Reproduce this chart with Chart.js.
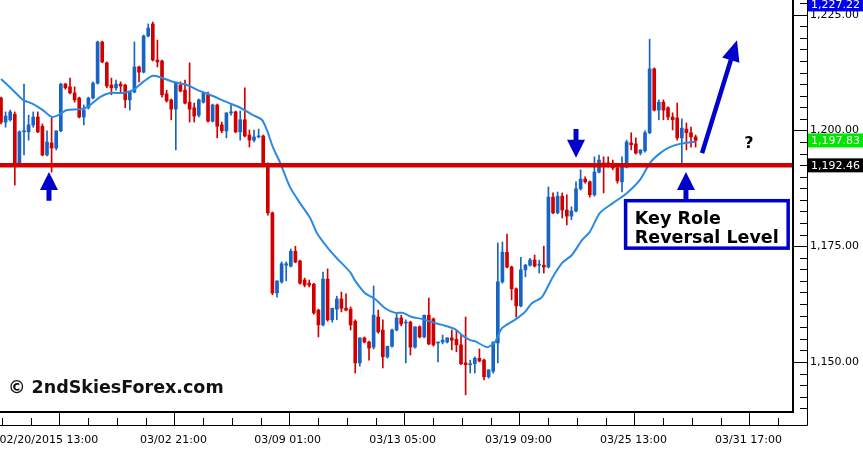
<!DOCTYPE html>
<html><head><meta charset="utf-8">
<script src="https://cdn.jsdelivr.net/npm/chart.js@4/dist/chart.umd.min.js"></script>
<style>html,body{margin:0;padding:0;background:#fff;}#wrap{width:863px;height:450px;}</style>
</head><body><div id="wrap"><canvas id="c" width="863" height="450"></canvas></div>
<script>
// ---- candle data (H4 bars) ----
const opens  = [1207.0,1201.8,1202.3,1203.5,1193.0,1199.7,1199.7,1201.2,1202.9,1200.9,1194.7,1197.3,1196.2,1199.9,1210.0,1209.4,1208.1,1207.0,1202.9,1204.9,1207.0,1210.2,1219.1,1214.6,1209.8,1209.2,1210.0,1209.8,1206.6,1208.3,1213.7,1212.6,1220.4,1223.0,1215.2,1215.0,1207.9,1206.6,1204.6,1209.8,1208.7,1206.1,1204.9,1203.3,1206.1,1207.7,1202.0,1205.5,1201.2,1199.9,1203.8,1204.0,1199.7,1202.3,1199.0,1197.9,1198.6,1198.8,1192.8,1182.2,1164.9,1167.3,1170.9,1170.7,1173.9,1171.8,1167.7,1167.0,1166.8,1161.2,1158.0,1167.9,1159.1,1161.4,1163.6,1161.6,1161.4,1158.8,1149.8,1155.2,1154.3,1153.2,1159.7,1156.9,1151.1,1153.4,1156.9,1159.5,1158.4,1158.6,1153.2,1157.6,1155.4,1160.1,1159.3,1154.1,1154.3,1154.3,1155.2,1154.9,1153.7,1149.8,1149.4,1149.6,1150.8,1150.4,1146.8,1148.0,1154.1,1167.3,1173.7,1170.5,1165.8,1162.1,1169.9,1170.9,1172.0,1170.9,1170.9,1170.5,1185.6,1182.2,1185.8,1182.8,1181.5,1182.6,1187.4,1189.5,1188.9,1186.1,1191.0,1193.0,1193.0,1192.8,1191.9,1188.9,1192.1,1197.3,1197.1,1195.1,1195.6,1199.5,1213.3,1204.4,1206.1,1204.9,1202.9,1202.7,1198.4,1200.3,1199.5,1198.6];
const highs  = [1207.2,1204.0,1204.4,1204.0,1199.9,1210.0,1203.3,1204.0,1204.0,1201.4,1199.9,1202.7,1199.9,1210.2,1210.2,1211.3,1209.4,1207.2,1205.5,1207.2,1210.5,1219.3,1219.3,1214.8,1211.3,1210.9,1210.5,1210.0,1208.3,1219.1,1213.9,1220.6,1223.0,1223.4,1219.5,1215.2,1208.7,1206.8,1210.2,1210.5,1210.9,1214.6,1205.9,1206.8,1208.3,1208.3,1205.7,1205.7,1201.8,1203.8,1205.5,1204.2,1204.2,1209.2,1200.1,1200.1,1200.3,1199.0,1193.0,1182.4,1167.5,1171.6,1171.6,1174.4,1175.0,1172.0,1168.1,1167.7,1167.0,1161.4,1169.4,1170.1,1161.6,1164.2,1165.1,1164.7,1161.9,1159.1,1155.2,1155.4,1154.5,1166.4,1161.2,1159.1,1153.4,1157.1,1160.6,1160.1,1159.1,1158.8,1157.6,1157.8,1160.1,1163.8,1159.5,1154.3,1155.8,1155.2,1156.9,1156.9,1155.8,1159.7,1150.4,1151.1,1152.8,1150.6,1148.3,1154.3,1175.7,1175.9,1177.6,1170.7,1166.0,1172.6,1171.1,1172.4,1173.1,1172.0,1175.0,1187.8,1186.5,1186.7,1186.5,1186.1,1183.5,1188.9,1191.5,1190.0,1189.1,1194.3,1194.7,1194.3,1194.3,1193.6,1192.3,1194.3,1197.9,1199.5,1198.4,1195.8,1199.9,1219.7,1213.5,1206.6,1206.6,1205.1,1203.8,1205.9,1202.5,1201.6,1200.7,1199.0];
const lows   = [1201.4,1200.7,1202.0,1188.2,1192.8,1194.7,1197.9,1200.7,1199.5,1194.5,1194.5,1191.0,1195.8,1199.7,1208.9,1207.9,1206.1,1202.7,1201.2,1204.6,1206.8,1210.0,1214.6,1209.2,1207.7,1208.7,1208.3,1204.9,1204.4,1208.1,1210.5,1212.4,1220.2,1215.0,1213.7,1207.2,1206.1,1202.3,1195.8,1208.3,1205.7,1201.8,1201.8,1202.9,1205.9,1201.8,1201.8,1198.4,1199.5,1198.4,1203.3,1199.5,1197.9,1198.6,1196.4,1197.5,1198.4,1192.8,1181.7,1164.5,1164.0,1167.0,1167.5,1170.5,1171.4,1166.8,1166.2,1166.2,1160.3,1155.4,1157.8,1158.8,1158.6,1159.1,1160.8,1161.0,1156.9,1147.6,1149.1,1154.1,1150.4,1152.8,1156.2,1148.7,1150.8,1153.2,1156.7,1157.8,1149.8,1151.5,1153.0,1155.2,1155.2,1153.7,1153.4,1150.0,1153.9,1154.1,1152.6,1152.2,1149.4,1142.9,1147.6,1147.6,1150.0,1146.1,1146.5,1147.6,1149.8,1167.0,1170.3,1163.4,1159.7,1161.9,1168.4,1170.7,1170.5,1169.2,1169.2,1170.3,1182.0,1182.0,1181.1,1179.6,1180.7,1182.4,1187.1,1188.6,1185.6,1185.8,1190.8,1186.5,1192.1,1191.5,1188.6,1186.7,1191.9,1195.8,1194.9,1194.7,1195.3,1199.3,1204.2,1202.3,1202.3,1202.3,1200.1,1197.9,1192.5,1195.8,1196.4,1196.4];
const closes = [1201.8,1203.1,1204.0,1193.0,1199.7,1199.9,1201.2,1202.9,1199.7,1194.7,1197.5,1196.2,1199.9,1210.0,1209.2,1208.1,1206.6,1202.9,1204.4,1207.0,1210.2,1219.1,1214.8,1209.6,1209.2,1210.0,1209.6,1206.6,1208.3,1213.7,1212.6,1220.4,1222.1,1215.2,1214.8,1207.7,1206.4,1204.6,1210.2,1208.5,1205.9,1204.6,1203.1,1206.6,1208.1,1202.0,1205.5,1200.9,1199.9,1203.8,1204.0,1199.7,1202.3,1198.8,1197.9,1198.6,1198.8,1192.8,1182.2,1164.9,1167.5,1171.2,1171.2,1173.9,1171.6,1167.0,1166.6,1166.6,1160.6,1158.0,1167.9,1159.1,1161.6,1163.6,1161.6,1161.2,1158.0,1149.8,1155.2,1154.3,1153.0,1160.1,1156.5,1151.1,1153.4,1156.9,1159.5,1158.2,1158.6,1153.2,1157.6,1155.4,1160.1,1153.9,1153.7,1154.3,1154.7,1155.2,1154.7,1153.7,1149.6,1149.4,1149.6,1150.8,1150.2,1146.8,1148.3,1154.3,1167.3,1173.7,1170.5,1165.8,1162.1,1169.9,1170.9,1172.0,1170.7,1171.0,1170.5,1185.6,1182.2,1185.8,1182.8,1181.5,1182.6,1187.4,1189.5,1188.9,1186.1,1191.0,1193.6,1192.5,1192.5,1191.9,1189.1,1192.1,1197.5,1196.9,1195.1,1195.8,1199.5,1213.3,1204.4,1206.1,1204.4,1202.9,1202.3,1198.4,1200.5,1199.5,1198.6,1197.83];

// ---- moving average readings (bar position, price) ----
const maIdx = [0,2.6,4.8,7.0,9.1,11.1,12.4,14.3,17.2,18.9,21.5,23.7,26.5,28.7,30.9,33.0,34.6,37.4,40.4,43.3,45.4,49.1,52.0,54.8,56.7,57.8,59.1,60.7,62.8,65.0,67.2,68.7,70.9,73.0,75.9,77.0,79.1,81.3,83.5,85.7,87.4,89.3,91.5,93.7,95.9,98.7,100.2,102.0,103.0,105.7,107.4,108.9,111.7,113.9,115.4,117.6,119.8,122.0,124.1,126.3,128.0,130.2,133.0,136.1,138.9,141.1,143.3,145.4,147.6,150.4,151.0];
const maVal = [1211.1,1208.7,1206.6,1205.7,1204.4,1202.9,1203.3,1204.4,1204.6,1205.1,1207.2,1208.1,1208.1,1208.7,1210.5,1211.8,1211.5,1210.5,1209.8,1208.5,1207.7,1206.1,1204.9,1203.3,1202.3,1200.1,1196.4,1193.0,1187.8,1184.3,1181.1,1177.8,1174.8,1172.4,1169.4,1167.5,1164.9,1163.6,1161.6,1160.6,1160.6,1159.7,1159.3,1158.6,1158.0,1157.1,1155.8,1154.7,1154.5,1153.2,1154.3,1157.3,1159.1,1160.8,1162.7,1164.0,1168.1,1171.4,1173.1,1176.3,1178.1,1182.2,1184.3,1186.5,1189.3,1193.0,1195.1,1196.4,1197.1,1197.5,1197.6];

// ---- axis ticks ----
const xTickPos    = [12.67,37.67,62.67,87.67,112.67,137.67,162.67];
const xLabelPos   = [10.4,37.5,62.3,87.3,112.5,137.5,162.5];
const xTickLabels = ["02/20/2015 13:00","03/02 21:00","03/09 01:00","03/13 05:00","03/19 09:00","03/25 13:00","03/31 17:00"];
const xMinorStep  = 6.25;
const yMajorTicks = [1150,1175,1200,1225];
const yMinorStep  = 2.5;

// ---- price markers & annotations ----
const keyLevel   = 1192.46;
const lastClose  = 1197.83;
const highMarker = 1227.22;

const BULL = '#1764c4', BEAR = '#d10000', MA_COL = '#2a8be2', LINE_RED = '#d40000', ARROW = '#0000cc';

const xMin = -0.22, xMax = 172.17, yMin = 1139.19, yMax = 1228.17;

function fmt(v){ return v.toLocaleString('en-US',{minimumFractionDigits:2,maximumFractionDigits:2}); }

function drawArrow(ctx,x1,y1,x2,y2,sw,hw,hl){
  const dx=x2-x1, dy=y2-y1, len=Math.hypot(dx,dy), ux=dx/len, uy=dy/len, px=-uy, py=ux;
  const bx=x2-ux*hl, by=y2-uy*hl;
  ctx.beginPath();
  ctx.moveTo(x1+px*sw/2, y1+py*sw/2);
  ctx.lineTo(bx+px*sw/2, by+py*sw/2);
  ctx.lineTo(bx+px*hw/2, by+py*hw/2);
  ctx.lineTo(x2, y2);
  ctx.lineTo(bx-px*hw/2, by-py*hw/2);
  ctx.lineTo(bx-px*sw/2, by-py*sw/2);
  ctx.lineTo(x1-px*sw/2, y1-py*sw/2);
  ctx.closePath(); ctx.fill();
}

const arrows = [
  {from:[10.43,1184.8], to:[10.43,1191.0], sw:5, hw:18, hl:18},
  {from:[125.0,1200.3], to:[125.0,1194.1], sw:5, hw:18, hl:18},
  {from:[148.9,1184.8], to:[148.9,1191.0], sw:5, hw:18, hl:18},
  {from:[152.4,1195.1], to:[160.0,1219.5], sw:4.5, hw:18, hl:21}
];

const decor = {
  id:'decor',
  beforeDraw(chart){
    const c=chart.ctx; c.save(); c.fillStyle='#fff'; c.fillRect(0,0,chart.width,chart.height); c.restore();
  },
  afterDatasetsDraw(chart){
    const {ctx, chartArea:a, scales:{x,y}} = chart;
    ctx.save();
    const ly = y.getPixelForValue(keyLevel);
    ctx.strokeStyle = LINE_RED; ctx.lineWidth = 4.5;
    ctx.beginPath(); ctx.moveTo(a.left, ly); ctx.lineTo(a.right, ly); ctx.stroke();
    ctx.fillStyle = ARROW;
    arrows.forEach(ar=>{
      drawArrow(ctx, x.getPixelForValue(ar.from[0]), y.getPixelForValue(ar.from[1]),
                     x.getPixelForValue(ar.to[0]), y.getPixelForValue(ar.to[1]), ar.sw, ar.hw, ar.hl);
    });
    ctx.fillStyle = '#000'; ctx.font = 'bold 16px "DejaVu Sans"'; ctx.textAlign='center'; ctx.textBaseline='alphabetic';
    ctx.fillText('?', x.getPixelForValue(162.6), y.getPixelForValue(1196.2));
    const bl = x.getPixelForValue(135.4), br = x.getPixelForValue(171.5);
    const bt = y.getPixelForValue(1185.2), bb = y.getPixelForValue(1174.2);
    ctx.fillStyle='#fff'; ctx.fillRect(bl,bt,br-bl,bb-bt);
    ctx.strokeStyle = ARROW; ctx.lineWidth = 3.5;
    ctx.strokeRect(bl+1.75, bt+1.75, br-bl-3.5, bb-bt-3.5);
    ctx.fillStyle='#000'; ctx.font='bold 17.5px "DejaVu Sans"'; ctx.textAlign='left';
    ctx.fillText('Key Role', bl+11, bt+25);
    ctx.fillText('Reversal Level', bl+11, bt+44);
    ctx.font='bold 17.5px "DejaVu Sans"'; ctx.fillStyle='#111';
    ctx.fillText('\u00A9 2ndSkiesForex.com', a.left+8, a.bottom-19.5);
    ctx.restore();
  },
  afterDraw(chart){
    const {ctx, chartArea:a, scales:{x,y}} = chart;
    ctx.save();
    const R = a.right, B = a.bottom, OX = R+14, OY = B+13;
    ctx.strokeStyle='#000';
    ctx.lineWidth=2;
    ctx.beginPath(); ctx.moveTo(R, 0); ctx.lineTo(R, B); ctx.lineTo(0, B); ctx.stroke();
    ctx.lineWidth=1;
    ctx.beginPath(); ctx.moveTo(OX+0.5, 0); ctx.lineTo(OX+0.5, OY+0.5); ctx.lineTo(0, OY+0.5); ctx.stroke();
    ctx.beginPath();
    for(let v=Math.ceil(yMin/yMinorStep)*yMinorStep; v<=yMax; v+=yMinorStep){
      const py = Math.round(y.getPixelForValue(v))+0.5;
      const major = yMajorTicks.includes(Math.round(v*100)/100);
      ctx.moveTo(major?R:OX-7, py); ctx.lineTo(OX, py);
    }
    for(let v=xTickPos[0]-Math.floor((xTickPos[0]-xMin)/xMinorStep)*xMinorStep; v<=xMax; v+=xMinorStep){
      const px = Math.round(x.getPixelForValue(v))+0.5;
      const major = xTickPos.some(t=>Math.abs(t-v)<0.01);
      ctx.moveTo(px, major?B:OY-7); ctx.lineTo(px, OY);
    }
    ctx.stroke();
    const boxes = [[highMarker,'#0000ee'],[lastClose,'#00e600'],[keyLevel,'#000000']];
    ctx.font='11px "DejaVu Sans"'; ctx.textAlign='left'; ctx.textBaseline='middle';
    boxes.forEach(([v,col])=>{
      const py = y.getPixelForValue(v);
      ctx.fillStyle=col; ctx.fillRect(OX+1, py-7, chart.width-OX-1, 14);
      ctx.fillStyle='#fff'; ctx.fillText(fmt(v), OX+4, py+0.5);
    });
    ctx.restore();
  }
};

const wickData = opens.map((o,i)=>({x:i, y:[lows[i], highs[i]]}));
const bodyData = opens.map((o,i)=>({x:i, y:[opens[i], closes[i]]}));
const colorFor = ctx => closes[ctx.dataIndex] >= opens[ctx.dataIndex] ? BULL : BEAR;

function noPad(s){ s.paddingLeft = 0; s.paddingRight = 0; s.paddingTop = 0; s.paddingBottom = 0; }

new Chart(document.getElementById('c'), {
  type:'bar',
  data:{ datasets:[
    {type:'line', data: maIdx.map((v,i)=>({x:v, y:maVal[i]})), borderColor:MA_COL, borderWidth:2, pointRadius:0, tension:0.25, order:0},
    {data: bodyData, backgroundColor: colorFor, barThickness:3, minBarLength:1, grouped:false, borderWidth:0, order:1},
    {data: wickData, backgroundColor: colorFor, barThickness:1, grouped:false, borderWidth:0, order:2}
  ]},
  options:{
    responsive:false, animation:false, devicePixelRatio:1,
    layout:{padding:0, autoPadding:false},
    plugins:{legend:{display:false}, tooltip:{enabled:false}},
    scales:{
      x:{type:'linear', position:'bottom', min:xMin, max:xMax, offset:false,
         grid:{display:false, drawTicks:false}, border:{display:false},
         afterBuildTicks: s => { s.ticks = xLabelPos.map(v=>({value:v})); },
         afterFit: s => { s.height = 38; noPad(s); },
         ticks:{autoSkip:false, maxRotation:0, minRotation:0, padding:22, color:'#000',
                font:{family:'DejaVu Sans', size:11},
                callback:(v,i)=> xTickLabels[i]}},
      y:{type:'linear', position:'right', min:yMin, max:yMax,
         grid:{display:false, drawTicks:false}, border:{display:false},
         afterBuildTicks: s => { s.ticks = yMajorTicks.map(v=>({value:v})); },
         afterFit: s => { s.width = 70; noPad(s); },
         ticks:{autoSkip:false, padding:17, color:'#000', font:{family:'DejaVu Sans', size:11},
                callback: v => fmt(v)}}
    }
  },
  plugins:[decor]
});
</script></body></html>
